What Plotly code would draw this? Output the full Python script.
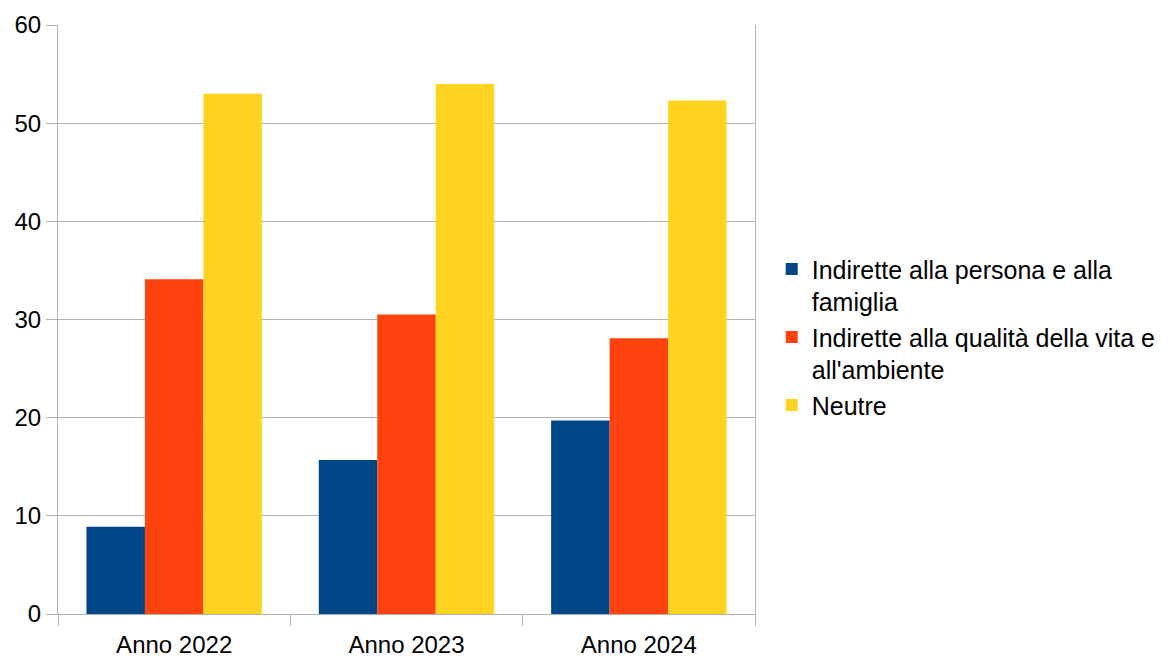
import plotly.graph_objects as go

# Categories and series values
anni = ["Anno 2022", "Anno 2023", "Anno 2024"]
persona_famiglia = [8.9, 15.7, 19.7]
qualita_vita_ambiente = [34.1, 30.5, 28.1]
neutre = [53.0, 54.0, 52.3]

serie = [
    ("Indirette alla persona e alla<br>famiglia", persona_famiglia, "#004586"),
    ("Indirette alla qualità della vita e<br>all'ambiente", qualita_vita_ambiente, "#ff420e"),
    ("Neutre", neutre, "#ffd320"),
]

fig = go.Figure()
for nome, valori, colore in serie:
    fig.add_trace(go.Bar(
        x=anni, y=valori, name=nome,
        marker=dict(color=colore, line=dict(width=0)),
    ))

grid = "#b3b3b3"
fig.update_layout(
    width=1175, height=660,
    margin=dict(l=58, r=420, t=25, b=46),
    paper_bgcolor="white", plot_bgcolor="white",
    barmode="group", bargap=0.245, bargroupgap=0,
    font=dict(family="Liberation Sans, Arial, sans-serif", size=24, color="black"),
    legend=dict(
        x=1.024, y=0.47, xanchor="left", yanchor="middle",
        font=dict(size=25), valign="top",
        itemwidth=30, tracegroupgap=1,
        bgcolor="rgba(0,0,0,0)",
    ),
    xaxis=dict(
        showline=True, linecolor=grid, linewidth=1,
        ticks="outside", tickson="boundaries", ticklen=11, tickcolor=grid,
        ticklabelstandoff=9, automargin=False,
        showgrid=False,
    ),
    yaxis=dict(
        range=[0, 60], dtick=10, automargin=False,
        showline=True, linecolor=grid, linewidth=1, mirror=True,
        showgrid=True, gridcolor=grid, gridwidth=1,
        ticks="outside", ticklen=11, tickcolor=grid,
        zeroline=False,
    ),
)

fig.write_html("out.html")
